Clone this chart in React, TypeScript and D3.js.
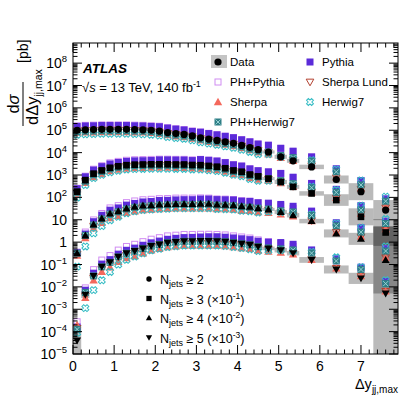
import React from 'react';
import * as d3 from 'd3';

// ---------- data ----------
const binEdges = [0, 0.2, 0.4, 0.6, 0.8, 1.0, 1.2, 1.4, 1.6, 1.8, 2.0, 2.2, 2.4, 2.6, 2.8, 3.0, 3.2, 3.4, 3.6, 3.8, 4.0, 4.2, 4.4, 4.6, 4.9, 5.2, 5.5, 6.1, 6.7, 7.3, 7.9];

// measured cross sections [pb] (unscaled)
const dataNj2 = [1.0e5, 1.05e5, 1.07e5, 1.1e5, 1.1e5, 1.1e5, 1.1e5, 1.07e5, 1.05e5, 1.0e5, 9.1e4, 7.9e4, 7.1e4, 6.5e4, 5.6e4, 4.6e4, 4.0e4, 3.5e4, 3.0e4, 2.6e4, 2.1e4, 1.7e4, 1.35e4, 1.07e4, 6.5e3, 4.3e3, 2.3e3, 630, 180, 27];
const dataNj3 = [1.8e3, 5.9e3, 1.15e4, 1.6e4, 2.1e4, 2.45e4, 2.75e4, 2.9e4, 2.95e4, 3.0e4, 3.0e4, 3.0e4, 2.95e4, 2.95e4, 2.8e4, 2.75e4, 2.55e4, 2.35e4, 2.0e4, 1.6e4, 1.4e4, 1.05e4, 8.7e3, 6.9e3, 4.9e3, 2.95e3, 1.5e3, 760, 135, 27];
const dataNj4 = [32, 200, 620, 1.15e3, 1.9e3, 2.4e3, 3.2e3, 3.8e3, 4.3e3, 4.5e3, 4.8e3, 4.9e3, 5.1e3, 5.1e3, 5.1e3, 5.2e3, 5.2e3, 4.8e3, 4.7e3, 4.5e3, 4.0e3, 3.8e3, 3.3e3, 2.9e3, 2.2e3, 1.6e3, 870, 245, 140, 16];
const dataNj5 = [0.04, 4.5, 31, 79, 125, 220, 320, 400, 525, 675, 790, 950, 1.02e3, 1.1e3, 1.1e3, 1.12e3, 1.12e3, 1.1e3, 1.05e3, 950, 850, 760, 630, 525, 435, 320, 160, 60, 24, 5];
const scaleFactors = [1, 0.1, 0.01, 0.001];

// data uncertainty (half width, in decades)
const uncNj2 = [0.03, 0.03, 0.03, 0.03, 0.03, 0.03, 0.03, 0.03, 0.03, 0.03, 0.03, 0.03, 0.03, 0.03, 0.03, 0.035, 0.035, 0.035, 0.035, 0.05, 0.05, 0.05, 0.05, 0.07, 0.09, 0.09, 0.1, 0.18, 0.38, 0.45];
const uncNj3 = [0.05, 0.03, 0.03, 0.03, 0.03, 0.03, 0.03, 0.03, 0.03, 0.03, 0.03, 0.03, 0.03, 0.03, 0.03, 0.04, 0.04, 0.04, 0.04, 0.05, 0.05, 0.05, 0.05, 0.07, 0.09, 0.09, 0.1, 0.26, 0.38, 0.6];
const uncNj4 = [0.1, 0.06, 0.04, 0.04, 0.04, 0.04, 0.04, 0.04, 0.04, 0.04, 0.04, 0.04, 0.04, 0.04, 0.04, 0.05, 0.05, 0.05, 0.05, 0.05, 0.05, 0.05, 0.05, 0.07, 0.09, 0.1, 0.1, 0.18, 0.27, 1.5];
const uncNj5 = [0.7, 0.15, 0.08, 0.05, 0.05, 0.05, 0.05, 0.05, 0.05, 0.05, 0.05, 0.05, 0.05, 0.05, 0.05, 0.06, 0.06, 0.06, 0.06, 0.06, 0.06, 0.06, 0.06, 0.08, 0.1, 0.1, 0.13, 0.18, 0.25, 3.0];

// MC / data ratios, per generator, per jet multiplicity
const pythiaRatio = [
  [1.48, 1.48, 1.48, 1.48, 1.48, 1.48, 1.48, 1.48, 1.48, 1.48, 1.58, 1.58, 1.58, 1.58, 1.58, 1.78, 1.78, 1.78, 1.78, 1.78, 1.78, 1.78, 1.78, 2.0, 2.4, 2.7, 2.8, 3.0, 3.16, 3.16],
  [1.35, 1.41, 1.45, 1.48, 1.48, 1.48, 1.48, 1.48, 1.48, 1.48, 1.58, 1.58, 1.58, 1.58, 1.58, 1.78, 1.78, 1.78, 1.78, 1.78, 1.78, 1.78, 1.78, 2.0, 2.4, 2.7, 2.8, 3.0, 3.16, 3.16],
  [1.05, 1.15, 1.32, 1.38, 1.41, 1.41, 1.41, 1.41, 1.45, 1.45, 1.51, 1.51, 1.51, 1.55, 1.55, 1.62, 1.62, 1.66, 1.66, 1.7, 1.7, 1.74, 1.74, 1.9, 2.2, 2.5, 2.8, 3.0, 3.16, 3.16],
  [4.0, 1.58, 1.32, 1.32, 1.32, 1.32, 1.35, 1.35, 1.38, 1.38, 1.41, 1.41, 1.45, 1.45, 1.48, 1.51, 1.55, 1.58, 1.58, 1.62, 1.66, 1.7, 1.74, 1.9, 2.2, 2.5, 2.8, 3.0, 3.16, 3.5],
];
const phPythiaRatio = [
  [1.58, 1.58, 1.58, 1.58, 1.58, 1.58, 1.58, 1.58, 1.58, 1.58, 1.66, 1.66, 1.66, 1.66, 1.66, 1.82, 1.82, 1.82, 1.82, 1.82, 1.82, 1.82, 1.82, 2.0, 2.4, 2.63, 2.8, 3.0, 3.16, 3.16],
  [1.41, 1.5, 1.58, 1.62, 1.66, 1.66, 1.66, 1.66, 1.66, 1.66, 1.7, 1.7, 1.7, 1.7, 1.7, 1.82, 1.82, 1.82, 1.82, 1.82, 1.82, 1.82, 1.82, 2.0, 2.4, 2.63, 2.8, 3.0, 3.16, 3.16],
  [1.12, 1.41, 1.58, 1.66, 1.78, 1.78, 1.82, 1.82, 1.82, 1.82, 1.82, 1.82, 1.82, 1.82, 1.82, 1.82, 1.78, 1.78, 1.78, 1.78, 1.78, 1.78, 1.78, 1.82, 1.9, 2.0, 2.4, 2.8, 3.0, 3.16],
  [6.9, 2.0, 1.9, 2.0, 2.0, 2.0, 2.0, 2.0, 2.0, 2.0, 2.0, 2.0, 2.0, 2.0, 2.0, 2.0, 2.0, 2.0, 2.0, 2.0, 2.0, 2.0, 2.0, 2.0, 2.0, 2.0, 2.1, 2.4, 2.8, 3.0],
];
const sherpaRatio = [
  [0.79, 0.76, 0.76, 0.76, 0.76, 0.76, 0.76, 0.76, 0.76, 0.76, 0.76, 0.76, 0.76, 0.76, 0.76, 0.76, 0.76, 0.76, 0.76, 0.76, 0.76, 0.76, 0.76, 0.79, 0.89, 1.0, 1.12, 1.26, 1.41, 1.41],
  [0.83, 0.76, 0.71, 0.71, 0.71, 0.71, 0.71, 0.71, 0.71, 0.71, 0.71, 0.71, 0.71, 0.71, 0.71, 0.71, 0.71, 0.71, 0.71, 0.71, 0.71, 0.71, 0.71, 0.79, 0.89, 1.0, 1.12, 1.26, 1.41, 1.41],
  [0.79, 0.76, 0.66, 0.63, 0.63, 0.63, 0.63, 0.63, 0.63, 0.63, 0.63, 0.63, 0.63, 0.63, 0.63, 0.63, 0.63, 0.63, 0.63, 0.63, 0.63, 0.66, 0.66, 0.71, 0.79, 0.89, 1.0, 1.12, 1.26, 1.26],
  [5.0, 0.71, 0.63, 0.6, 0.6, 0.6, 0.6, 0.6, 0.6, 0.63, 0.63, 0.63, 0.63, 0.63, 0.63, 0.63, 0.63, 0.63, 0.63, 0.63, 0.63, 0.66, 0.66, 0.71, 0.79, 0.89, 1.0, 1.12, 1.26, 1.26],
];
const sherpaLundRatio = [
  [0.93, 0.93, 0.93, 0.93, 0.93, 0.93, 0.93, 0.93, 0.93, 0.93, 0.93, 0.93, 0.93, 0.93, 0.93, 0.93, 0.93, 0.93, 0.93, 0.93, 0.93, 0.93, 0.93, 0.95, 1.0, 1.05, 1.12, 1.2, 1.26, 1.26],
  [0.93, 0.9, 0.9, 0.9, 0.9, 0.9, 0.9, 0.9, 0.9, 0.9, 0.9, 0.9, 0.9, 0.9, 0.9, 0.9, 0.9, 0.9, 0.9, 0.9, 0.9, 0.9, 0.93, 0.95, 1.0, 1.05, 1.12, 1.2, 1.26, 1.26],
  [0.9, 0.87, 0.85, 0.85, 0.85, 0.85, 0.85, 0.85, 0.85, 0.85, 0.85, 0.85, 0.85, 0.85, 0.85, 0.85, 0.85, 0.85, 0.85, 0.87, 0.87, 0.9, 0.9, 0.93, 0.95, 1.0, 1.05, 1.12, 1.2, 1.26],
  [3.5, 0.85, 0.8, 0.8, 0.8, 0.8, 0.8, 0.8, 0.8, 0.8, 0.8, 0.8, 0.8, 0.8, 0.8, 0.8, 0.8, 0.8, 0.8, 0.85, 0.85, 0.87, 0.87, 0.9, 0.95, 1.0, 1.05, 1.12, 1.2, 1.26],
];
const herwig7Ratio = [
  [0.63, 0.63, 0.63, 0.63, 0.63, 0.63, 0.63, 0.63, 0.63, 0.63, 0.63, 0.63, 0.63, 0.63, 0.63, 0.63, 0.63, 0.63, 0.63, 0.63, 0.63, 0.63, 0.63, 0.79, 1.0, 1.26, 2.0, 2.8, 3.16, 4.0],
  [0.55, 0.6, 0.63, 0.63, 0.63, 0.63, 0.63, 0.63, 0.63, 0.63, 0.63, 0.63, 0.63, 0.63, 0.63, 0.63, 0.63, 0.63, 0.63, 0.63, 0.63, 0.63, 0.63, 0.79, 1.0, 1.26, 2.0, 2.8, 3.16, 4.0],
  [0.25, 0.32, 0.4, 0.45, 0.5, 0.56, 0.6, 0.63, 0.63, 0.63, 0.63, 0.63, 0.63, 0.63, 0.63, 0.63, 0.63, 0.63, 0.63, 0.63, 0.63, 0.63, 0.63, 0.79, 1.0, 1.26, 2.0, 2.8, 3.16, 4.0],
  [2.2, 0.25, 0.23, 0.25, 0.37, 0.45, 0.5, 0.56, 0.6, 0.63, 0.63, 0.63, 0.63, 0.63, 0.63, 0.63, 0.63, 0.63, 0.63, 0.63, 0.63, 0.63, 0.63, 0.79, 1.0, 1.26, 2.3, 3.5, 3.16, 4.0],
];
const phHerwig7Ratio = [
  [0.87, 0.87, 0.87, 0.87, 0.87, 0.87, 0.87, 0.87, 0.87, 0.87, 0.87, 0.87, 0.87, 0.87, 0.87, 0.87, 0.87, 0.87, 0.87, 0.87, 0.87, 0.87, 0.87, 1.0, 1.15, 1.4, 1.8, 2.2, 2.0, 2.5],
  [0.95, 0.9, 0.9, 0.9, 0.9, 0.9, 0.9, 0.9, 0.9, 0.9, 0.9, 0.9, 0.9, 0.9, 0.9, 0.9, 0.9, 0.9, 0.9, 0.9, 0.9, 0.9, 0.95, 1.0, 1.15, 1.4, 1.8, 2.2, 2.0, 2.5],
  [1.0, 1.0, 0.95, 0.95, 0.95, 0.95, 0.95, 0.95, 0.95, 0.95, 0.95, 0.95, 0.95, 0.95, 0.95, 0.95, 0.95, 0.95, 0.95, 0.95, 0.95, 0.95, 1.0, 1.05, 1.15, 1.4, 1.8, 2.2, 2.0, 2.5],
  [3.16, 1.26, 1.0, 1.0, 1.0, 1.0, 1.0, 1.0, 1.0, 1.0, 1.0, 1.0, 1.0, 1.0, 1.0, 1.0, 1.0, 1.0, 1.0, 1.0, 1.0, 1.0, 1.0, 1.05, 1.15, 1.4, 2.0, 2.4, 2.5, 2.8],
];

const groupLabels = ['2', '3', '4', '5'];
const groupScaleExp = ['', '-1', '-2', '-3'];
const dataShapes = ['circle', 'square', 'triangle', 'triangleDown'];
const xTicks = [0, 1, 2, 3, 4, 5, 6, 7];
const yDecades = [-5, -4, -3, -2, -1, 0, 1, 2, 3, 4, 5, 6, 7, 8];

const models = [
  { name: 'PH+Pythia', ratio: phPythiaRatio, shape: 'openSquare', color: '#d08cf2' },
  { name: 'Pythia', ratio: pythiaRatio, shape: 'square', color: '#5b2bd9' },
  { name: 'Sherpa Lund', ratio: sherpaLundRatio, shape: 'openTriangleDown', color: '#b3402f' },
  { name: 'Sherpa', ratio: sherpaRatio, shape: 'triangle', color: '#f4685c' },
  { name: 'Herwig7', ratio: herwig7Ratio, shape: 'openCross', color: '#35bcc4' },
  { name: 'PH+Herwig7', ratio: phHerwig7Ratio, shape: 'boxX', color: '#2f7f86' },
];

// ---------- layout ----------
const W = 407, H = 395;
const left = 73, right = 398, top = 43, bottom = 354;
const xScale = d3.scaleLinear().domain([0, 7.9]).range([left, right]);
const yScale = d3.scaleLog().domain([1e-5, Math.pow(10, 8.9)]).range([bottom, top]);
const FONT = 'Liberation Sans, Arial, Helvetica, sans-serif';

function Marker({ shape, x, y, color, s = 1 }: { shape: string; x: number; y: number; color: string; s?: number }) {
  const h = 3.5 * s;
  switch (shape) {
    case 'circle':
      return <circle cx={x} cy={y} r={3.6 * s} fill={color} />;
    case 'square':
      return <rect x={x - h} y={y - h} width={2 * h} height={2 * h} fill={color} />;
    case 'openSquare':
      return <rect x={x - h + 0.5} y={y - h + 0.5} width={2 * h - 1} height={2 * h - 1} fill="none" stroke={color} strokeWidth={1} />;
    case 'triangle': {
      const t = 4.2 * s;
      return <path d={`M${x},${y - t}L${x + t},${y + t * 0.75}L${x - t},${y + t * 0.75}Z`} fill={color} />;
    }
    case 'triangleDown': {
      const t = 4.2 * s;
      return <path d={`M${x},${y + t}L${x + t},${y - t * 0.75}L${x - t},${y - t * 0.75}Z`} fill={color} />;
    }
    case 'openTriangleDown': {
      const t = 3.8 * s;
      return <path d={`M${x},${y + t}L${x + t},${y - t * 0.75}L${x - t},${y - t * 0.75}Z`} fill="none" stroke={color} strokeWidth={1} />;
    }
    case 'openCross': {
      const a = 1.3 * s, b = 3.6 * s;
      const d = `M${x - a},${y - b}L${x + a},${y - b}L${x + a},${y - a}L${x + b},${y - a}L${x + b},${y + a}L${x + a},${y + a}L${x + a},${y + b}L${x - a},${y + b}L${x - a},${y + a}L${x - b},${y + a}L${x - b},${y - a}L${x - a},${y - a}Z`;
      return <path d={d} fill="none" stroke={color} strokeWidth={1} transform={`rotate(45 ${x} ${y})`} />;
    }
    case 'boxX':
      return (
        <g>
          <rect x={x - h} y={y - h} width={2 * h} height={2 * h} fill={color} />
          <path d={`M${x - h + 1},${y - h + 1}L${x + h - 1},${y + h - 1}M${x + h - 1},${y - h + 1}L${x - h + 1},${y + h - 1}`} stroke="#9fd6d8" strokeWidth={0.9} />
        </g>
      );
    default:
      return null;
  }
}

export default function App() {
  const groups = [dataNj2, dataNj3, dataNj4, dataNj5];
  const uncs = [uncNj2, uncNj3, uncNj4, uncNj5];
  const centers = binEdges.slice(0, -1).map((e, i) => (e + binEdges[i + 1]) / 2);
  const clampY = (v: number) => Math.max(top, Math.min(bottom, v));

  const boxes: JSX.Element[] = [];
  const mcMarks: JSX.Element[] = [];
  const dataMarks: JSX.Element[] = [];
  groups.forEach((vals, g) => {
    vals.forEach((v, i) => {
      const sv = v * scaleFactors[g];
      const u = uncs[g][i];
      const y0 = clampY(yScale(sv * Math.pow(10, u)));
      const y1 = clampY(yScale(sv / Math.pow(10, u)));
      boxes.push(
        <rect key={`b${g}-${i}`} x={xScale(binEdges[i])} y={y0} width={xScale(binEdges[i + 1]) - xScale(binEdges[i])} height={y1 - y0} fill="#000" fillOpacity={0.27} />
      );
      models.forEach((m, k) => {
        const mv = sv * m.ratio[g][i];
        mcMarks.push(<Marker key={`m${g}-${i}-${k}`} shape={m.shape} x={xScale(centers[i])} y={yScale(mv)} color={m.color} />);
      });
      dataMarks.push(<Marker key={`d${g}-${i}`} shape={dataShapes[g]} x={xScale(centers[i])} y={yScale(sv)} color="#000" s={g === 0 ? 1 : 0.95} />);
    });
  });

  // ticks
  const tickLines: JSX.Element[] = [];
  const xMinor = d3.range(0, 7.9001, 0.2);
  xMinor.forEach((t, i) => {
    const isMajor = Math.abs(t - Math.round(t)) < 1e-6;
    const len = isMajor ? 9 : 4.5;
    const x = xScale(t);
    tickLines.push(<line key={`xb${i}`} x1={x} x2={x} y1={bottom} y2={bottom - len} stroke="#000" />);
    tickLines.push(<line key={`xt${i}`} x1={x} x2={x} y1={top} y2={top + len} stroke="#000" />);
  });
  for (let e = -5; e <= 8; e++) {
    for (let m = 1; m <= 9; m++) {
      const v = m * Math.pow(10, e);
      if (v > Math.pow(10, 8.9)) continue;
      const y = yScale(v);
      const len = m === 1 ? 9 : 4.5;
      tickLines.push(<line key={`yl${e}-${m}`} x1={left} x2={left + len} y1={y} y2={y} stroke="#000" />);
      tickLines.push(<line key={`yr${e}-${m}`} x1={right} x2={right - len} y1={y} y2={y} stroke="#000" />);
    }
  }

  const legendCol1 = 218, legendCol2 = 310;
  const legendRows = [62, 82, 102, 122];
  const legendItems = [
    { col: legendCol2, row: legendRows[0], m: models[1] },
    { col: legendCol1, row: legendRows[1], m: models[0] },
    { col: legendCol2, row: legendRows[1], m: models[2] },
    { col: legendCol1, row: legendRows[2], m: models[3] },
    { col: legendCol2, row: legendRows[2], m: models[4] },
    { col: legendCol1, row: legendRows[3], m: models[5] },
  ];

  return (
    <svg width={W} height={H} style={{ display: 'block', position: 'absolute', left: 0, top: 0 }} fontFamily={FONT}>
      <rect x={0} y={0} width={W} height={H} fill="#fff" />
      <defs>
        <clipPath id="plotClip">
          <rect x={left} y={top} width={right - left} height={bottom - top} />
        </clipPath>
      </defs>
      <g clipPath="url(#plotClip)">
        {boxes}
        {mcMarks}
        {dataMarks}
      </g>
      {tickLines}
      <rect x={left} y={top} width={right - left} height={bottom - top} fill="none" stroke="#000" strokeWidth={1} />

      {/* y tick labels */}
      {yDecades.map((e) => {
        const y = yScale(Math.pow(10, e)) + 5;
        if (e === 0) return <text key={`yt${e}`} x={67} y={y} textAnchor="end" fontSize={14}>1</text>;
        if (e === 1) return <text key={`yt${e}`} x={67} y={y} textAnchor="end" fontSize={14}>10</text>;
        return (
          <text key={`yt${e}`} x={67} y={y} textAnchor="end" fontSize={14}>
            10<tspan fontSize={9.5} dy={-6}>{e < 0 ? `\u2212${-e}` : `${e}`}</tspan>
          </text>
        );
      })}
      {/* x tick labels */}
      {xTicks.map((t) => (
        <text key={`xt${t}`} x={xScale(t)} y={371} textAnchor="middle" fontSize={14}>{t}</text>
      ))}
      {/* x title */}
      <text x={398} y={389} textAnchor="end" fontSize={14.5}>
        Δy<tspan fontSize={10} dy={4}>jj,max</tspan>
      </text>
      {/* y title */}
      <g transform="translate(23,126) rotate(-90)">
        <line x1={0} x2={44} y1={0} y2={0} stroke="#000" strokeWidth={1} />
        <text x={22} y={-4} textAnchor="middle" fontSize={16.5}>d<tspan fontStyle="italic">σ</tspan></text>
        <text x={1} y={15} fontSize={16.5}>dΔy<tspan fontSize={10.5} dy={4}>jj,max</tspan></text>
        <text x={63} y={5} fontSize={14}>[pb]</text>
      </g>

      {/* ATLAS label */}
      <text x={83} y={73} fontSize={13.5} fontWeight="bold" fontStyle="italic">ATLAS</text>
      <text x={82} y={92} fontSize={13}>
        √<tspan fontStyle="italic">s</tspan> = 13 TeV, 140 fb<tspan fontSize={9} dy={-5}>-1</tspan>
      </text>

      {/* top legend */}
      <rect x={211} y={55} width={16} height={13} fill="#c4c4c4" />
      <circle cx={legendCol1} cy={legendRows[0]} r={3.6} fill="#000" />
      <text x={legendCol1 + 12} y={legendRows[0] + 4} fontSize={11.5}>Data</text>
      {legendItems.map((it, i) => (
        <g key={`lg${i}`}>
          <Marker shape={it.m.shape} x={it.col} y={it.row} color={it.m.color} />
          <text x={it.col + 12} y={it.row + 4} fontSize={11.5}>{it.m.name}</text>
        </g>
      ))}

      {/* bottom legend */}
      {groupLabels.map((lab, g) => {
        const y = 279 + g * 19.5;
        return (
          <g key={`gl${g}`}>
            <Marker shape={dataShapes[g]} x={149} y={y} color="#000" s={0.75} />
            <text x={160} y={y + 5} fontSize={12.5}>
              N<tspan fontSize={9} dy={3}>jets</tspan><tspan dy={-3}> ≥ {lab}</tspan>
              {groupScaleExp[g] && (
                <>
                  <tspan> (×10</tspan>
                  <tspan fontSize={8.5} dy={-5}>{groupScaleExp[g]}</tspan>
                  <tspan dy={5}>)</tspan>
                </>
              )}
            </text>
          </g>
        );
      })}
    </svg>
  );
}
